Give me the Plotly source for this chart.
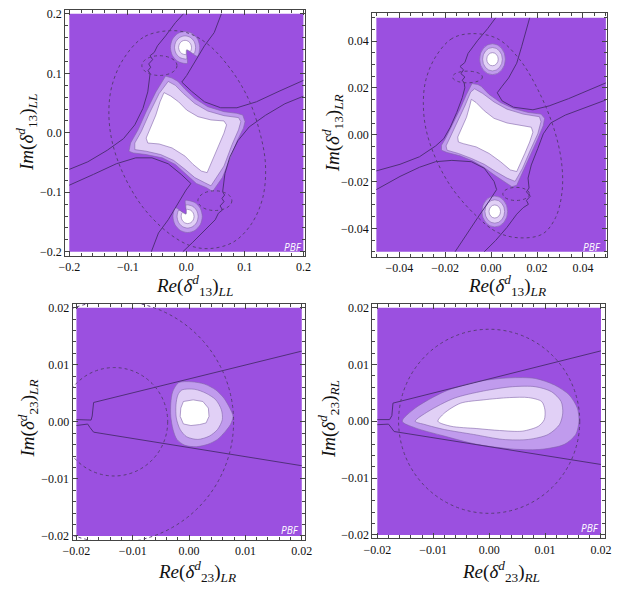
import plotly.graph_objects as go

# ---------------- colours ----------------
PURPLE = "rgb(155,80,224)"
MEDIUM = "rgb(192,155,237)"
LIGHT = "rgb(225,208,246)"
WHITE = "#ffffff"
EDGE = "rgba(130,100,170,0.75)"
DARK = "rgb(80,48,122)"
DASHC = "rgb(88,62,118)"

# ---------------- panel 1 : (delta13)_LL ----------------
P1_OUTER_X = [-0.0355,-0.0244,-0.0144,-0.0022,0.0144,0.0366,0.0643,0.0864,0.0964,0.1003,0.0975,0.0864,0.0753,0.0615,0.0449,0.0338,0.0172,0.0006,-0.0188,-0.0410,-0.0687,-0.0909,-0.0981,-0.0953,-0.0825,-0.0687,-0.0521]
P1_OUTER_Y = [0.0953,0.0920,0.0864,0.0731,0.0576,0.0438,0.0355,0.0327,0.0299,0.0188,0.0078,-0.0144,-0.0421,-0.0753,-0.0986,-0.0920,-0.0853,-0.0698,-0.0532,-0.0421,-0.0366,-0.0338,-0.0310,-0.0172,0.0050,0.0355,0.0687]
P1_MID_X = [-0.0310,-0.0188,-0.0050,0.0144,0.0366,0.0643,0.0892,0.0931,0.0892,0.0781,0.0643,0.0421,0.0310,0.0144,-0.0022,-0.0216,-0.0438,-0.0687,-0.0881,-0.0881,-0.0770,-0.0632,-0.0465]
P1_MID_Y = [0.0864,0.0798,0.0659,0.0493,0.0366,0.0288,0.0255,0.0188,0.0050,-0.0199,-0.0560,-0.0892,-0.0837,-0.0753,-0.0615,-0.0465,-0.0366,-0.0310,-0.0283,-0.0172,0.0022,0.0327,0.0659]
P1_WHITE_X = [-0.0382,-0.0270,-0.0133,0.0006,0.0199,0.0421,0.0643,0.0687,0.0643,0.0532,0.0421,0.0355,0.0255,0.0116,-0.0022,-0.0244,-0.0465,-0.0659,-0.0687,-0.0620,-0.0521,-0.0450]
P1_WHITE_Y = [0.0676,0.0620,0.0521,0.0382,0.0271,0.0216,0.0199,0.0133,-0.0006,-0.0255,-0.0532,-0.0670,-0.0643,-0.0532,-0.0393,-0.0255,-0.0188,-0.0172,-0.0089,0.0078,0.0299,0.0521]

P1_TOP_OUT_X = [0.0188,0.0228,0.0195,0.0103,-0.0022,-0.0147,-0.0239,-0.0272,-0.0239,-0.0147,-0.0022,0.0017,0.0005]
P1_TOP_OUT_Y = [0.1288,0.1435,0.1570,0.1669,0.1705,0.1669,0.1570,0.1435,0.1300,0.1201,0.1165,0.1168,0.1395]
P1_TOP_MID_X = [0.0129,0.0158,0.0134,0.0068,-0.0022,-0.0112,-0.0178,-0.0202,-0.0178,-0.0112,-0.0022,0.0006,0.0005]
P1_TOP_MID_Y = [0.1329,0.1435,0.1533,0.1604,0.1630,0.1604,0.1533,0.1435,0.1338,0.1266,0.1240,0.1242,0.1395]
P1_TOP_WHITE_X = [0.0070,0.0088,0.0073,0.0033,-0.0022,-0.0077,-0.0117,-0.0132,-0.0117,-0.0077,-0.0022,-0.0005,0.0005]
P1_TOP_WHITE_Y = [0.1370,0.1435,0.1495,0.1539,0.1555,0.1539,0.1495,0.1435,0.1375,0.1331,0.1315,0.1316,0.1395]

P1_BOT_OUT_X = [-0.0188,-0.0228,-0.0195,-0.0103,0.0022,0.0147,0.0239,0.0272,0.0239,0.0147,0.0022,-0.0017,-0.0005]
P1_BOT_OUT_Y = [-0.1260,-0.1407,-0.1542,-0.1641,-0.1677,-0.1641,-0.1542,-0.1407,-0.1272,-0.1173,-0.1137,-0.1140,-0.1367]
P1_BOT_MID_X = [-0.0129,-0.0158,-0.0134,-0.0068,0.0022,0.0112,0.0178,0.0202,0.0178,0.0112,0.0022,-0.0006,-0.0005]
P1_BOT_MID_Y = [-0.1301,-0.1407,-0.1505,-0.1576,-0.1602,-0.1576,-0.1505,-0.1407,-0.1310,-0.1238,-0.1212,-0.1214,-0.1367]
P1_BOT_WHITE_X = [-0.0070,-0.0088,-0.0073,-0.0033,0.0022,0.0077,0.0117,0.0132,0.0117,0.0077,0.0022,0.0005,-0.0005]
P1_BOT_WHITE_Y = [-0.1342,-0.1407,-0.1467,-0.1511,-0.1527,-0.1511,-0.1467,-0.1407,-0.1347,-0.1303,-0.1287,-0.1288,-0.1367]

P1_ELL_X = [-0.0355,-0.0742,-0.1075,-0.1269,-0.1324,-0.1269,-0.1075,-0.0742,-0.0299,0.0089,0.0421,0.0809,0.1114,0.1307,0.1352,0.1252,0.1058,0.0753,0.0366,0.0006,-0.0355]
P1_ELL_Y = [0.1712,0.1601,0.1241,0.0798,0.0355,-0.0144,-0.0698,-0.1252,-0.1690,-0.1906,-0.1945,-0.1834,-0.1529,-0.1086,-0.0532,0.0022,0.0576,0.1075,0.1490,0.1684,0.1712]
P1_SMALL_CX = [-0.0460, 0.0488]
P1_SMALL_CY = [0.1130, -0.1141]
P1_SMALL_RX = [0.0300, 0.0290]
P1_SMALL_RY = [0.0166, 0.0166]

P1_L1_X = [-0.2,-0.1684,-0.1352,-0.1075,-0.0881,-0.0742,-0.0659,-0.0632,-0.0620,-0.0654,-0.0609,-0.0643,-0.0576,-0.0620,-0.0548,-0.0493,-0.0355,-0.0188,-0.0050]
P1_L1_Y = [-0.0615,-0.0488,-0.0294,-0.0100,0.0133,0.0410,0.0687,0.0881,0.0992,0.1047,0.1102,0.1158,0.1230,0.1296,0.1352,0.1463,0.1629,0.1850,0.2]
P1_L2_X = [0.0598,0.0476,0.0310,0.0144,0.0006,-0.0078,0.0089,0.0310,0.0587,0.0864,0.1197,0.1584,0.2]
P1_L2_Y = [0.2,0.1684,0.1463,0.1186,0.0964,0.0853,0.0698,0.0521,0.0421,0.0421,0.0521,0.0698,0.0881]
P1_L3_X = [0.2,0.1684,0.1352,0.1075,0.0881,0.0742,0.0659,0.0632,0.0620,0.0654,0.0609,0.0643,0.0576,0.0620,0.0548,0.0493,0.0330,0.0100,-0.0060]
P1_L3_Y = [0.0615,0.0488,0.0294,0.0100,-0.0133,-0.0410,-0.0687,-0.0881,-0.0992,-0.1047,-0.1102,-0.1158,-0.1230,-0.1296,-0.1352,-0.1463,-0.1629,-0.1850,-0.2]
P1_L4_X = [-0.0598,-0.0476,-0.0310,-0.0144,-0.0006,0.0078,-0.0089,-0.0310,-0.0587,-0.0864,-0.1197,-0.1584,-0.2]
P1_L4_Y = [-0.2,-0.1684,-0.1463,-0.1186,-0.0964,-0.0853,-0.0698,-0.0521,-0.0421,-0.0421,-0.0521,-0.0698,-0.0881]

# ---------------- panel 2 : (delta13)_LR ----------------
P2_OUTER_X = [-0.00833,-0.00579,-0.00438,-0.00085,0.00410,0.00975,0.01610,0.02175,0.02331,0.02274,0.02034,0.01709,0.01398,0.01116,0.00904,0.00551,0.00127,-0.00297,-0.00791,-0.01356,-0.01921,-0.02161,-0.02161,-0.01992,-0.01709,-0.01356,-0.01073]
P2_OUTER_Y = [0.02189,0.02147,0.02077,0.01726,0.01375,0.01123,0.00954,0.00884,0.00702,0.00393,-0.00168,-0.00870,-0.01572,-0.02161,-0.02218,-0.01993,-0.01712,-0.01404,-0.01123,-0.00898,-0.00758,-0.00660,-0.00449,-0.00168,0.00393,0.01095,0.01726]
P2_MID_X = [-0.00720,-0.00367,0.00127,0.00692,0.01398,0.02105,0.02175,0.02034,0.01709,0.01370,0.01045,0.00692,0.00198,-0.00297,-0.00862,-0.01427,-0.01921,-0.01963,-0.01780,-0.01497,-0.01144,-0.00890]
P2_MID_Y = [0.01965,0.01768,0.01404,0.01095,0.00884,0.00772,0.00561,0.00042,-0.00660,-0.01432,-0.01993,-0.01853,-0.01572,-0.01263,-0.01011,-0.00800,-0.00660,-0.00477,-0.00098,0.00463,0.01235,0.01825]
P2_WHITE_X = [-0.00862,-0.00650,-0.00297,0.00127,0.00692,0.01398,0.01751,0.01822,0.01681,0.01469,0.01257,0.01116,0.00833,0.00410,-0.00085,-0.00650,-0.01215,-0.01427,-0.01455,-0.01285,-0.01073,-0.00932]
P2_WHITE_Y = [0.01516,0.01375,0.01025,0.00702,0.00505,0.00365,0.00323,0.00112,-0.00309,-0.00800,-0.01291,-0.01572,-0.01502,-0.01151,-0.00800,-0.00519,-0.00379,-0.00309,-0.00098,0.00253,0.00744,0.01235]

P2_RING_CX = [0.0006, 0.0016]
P2_RING_CY = [0.0323, -0.0328]
P2_RING_RX = [0.0056, 0.0043, 0.0025]
P2_RING_RY = [0.0066, 0.0050, 0.0028]

P2_ELL_X = [-0.00862,-0.01709,-0.02415,-0.02839,-0.02952,-0.02839,-0.02415,-0.01709,-0.00720,0.00268,0.01257,0.02246,0.02811,0.03093,0.03065,0.02740,0.02105,0.01257,0.00268,-0.00862]
P2_ELL_Y = [0.04323,0.04112,0.03340,0.02358,0.01375,0.00253,-0.01011,-0.02274,-0.03396,-0.04168,-0.04407,-0.04239,-0.03537,-0.02414,-0.01151,0.00253,0.01796,0.03200,0.04112,0.04323]
P2_SMALL_CX = [-0.0103, 0.0109]
P2_SMALL_CY = [0.0247, -0.0253]
P2_SMALL_RX = [0.0065, 0.0058]
P2_SMALL_RY = [0.0025, 0.0028]

P2_L1_X = [-0.05,-0.03969,-0.03121,-0.02415,-0.02062,-0.01780,-0.01497,-0.01257,-0.01144,-0.01172,-0.01257,-0.01144,-0.01314,-0.01201,-0.01356,-0.01144,-0.01003,-0.00579,-0.00155,0.00198]
P2_L1_Y = [-0.01544,-0.01263,-0.00940,-0.00477,-0.00168,0.00323,0.00954,0.01586,0.02007,0.02218,0.02330,0.02470,0.02611,0.02779,0.02919,0.03088,0.03481,0.04042,0.04533,0.05]
P2_L2_X = [0.01681,0.01540,0.01328,0.01116,0.00763,0.00480,0.00268,0.00480,0.00975,0.01822,0.02528,0.03376,0.04223,0.05]
P2_L2_Y = [0.05,0.04463,0.03761,0.03060,0.02428,0.02077,0.01796,0.01446,0.01179,0.01067,0.01235,0.01544,0.01881,0.02218]
P2_L3_X = [0.05,0.04082,0.03234,0.02599,0.02274,0.02034,0.01751,0.01610,0.01653,0.01540,0.01709,0.01540,0.01624,0.01398,0.01116,0.00692,0.00198,-0.00297]
P2_L3_Y = [0.01488,0.01165,0.00842,0.00505,0.00042,-0.00589,-0.01291,-0.01853,-0.02274,-0.02442,-0.02625,-0.02807,-0.02975,-0.03116,-0.03396,-0.03958,-0.04519,-0.05]
P2_L4_X = [-0.01568,-0.01073,-0.00579,-0.00085,0.00240,0.00127,-0.00297,-0.00862,-0.01709,-0.02415,-0.03121,-0.03969,-0.05]
P2_L4_Y = [-0.05,-0.04239,-0.03537,-0.02835,-0.02344,-0.01993,-0.01432,-0.01151,-0.01095,-0.01151,-0.01389,-0.01782,-0.02344]

# ---------------- panel 3 : (delta23)_LR ----------------
P3_OUTER_X = [-0.00187,0.00043,0.00273,0.00475,0.00619,0.00722,0.00780,0.00734,0.00647,0.00504,0.00331,0.00129,-0.00072,-0.00216,-0.00285,-0.00325,-0.00325,-0.00291]
P3_OUTER_Y = [0.00684,0.00701,0.00661,0.00557,0.00413,0.00240,0.00095,-0.00049,-0.00164,-0.00309,-0.00395,-0.00436,-0.00413,-0.00309,-0.00136,0.00095,0.00326,0.00528]
P3_MID_X = [-0.00129,0.00101,0.00302,0.00475,0.00573,0.00590,0.00504,0.00360,0.00158,-0.00043,-0.00158,-0.00227,-0.00233,-0.00199]
P3_MID_Y = [0.00557,0.00569,0.00499,0.00384,0.00211,0.00038,-0.00136,-0.00251,-0.00309,-0.00263,-0.00136,0.00066,0.00297,0.00470]
P3_WHITE_X = [-0.00101,0.00072,0.00245,0.00342,0.00354,0.00302,0.00187,0.00032,-0.00101,-0.00158,-0.00147]
P3_WHITE_Y = [0.00355,0.00384,0.00355,0.00240,0.00095,-0.00020,-0.00049,-0.00066,-0.00038,0.00095,0.00240]
P3_UP_X = [-0.02,-0.0174,-0.0172,-0.01695,0.02]
P3_UP_Y = [0.00038,0.00030,0.00100,0.00338,0.01238]
P3_LO_X = [-0.02,-0.0180,-0.0176,-0.01695,0.02]
P3_LO_Y = [-0.00066,-0.00040,-0.00100,-0.00182,-0.00770]
P3_CIRC_CX = [-0.0133, -0.0133]
P3_CIRC_CY = [0.0, 0.0]
P3_CIRC_R = [0.0095, 0.0212]

# ---------------- panel 4 : (delta23)_RL ----------------
P4_OUTER_X = [-0.01554,-0.01322,-0.00800,-0.00220,0.00359,0.00823,0.01171,0.01432,0.01577,0.01606,0.01548,0.01345,0.00939,0.00475,-0.00220,-0.00800,-0.01322]
P4_OUTER_Y = [0.0,0.00232,0.00522,0.00696,0.00765,0.00754,0.00638,0.00464,0.00232,0.0,-0.00232,-0.00406,-0.00493,-0.00493,-0.00406,-0.00261,-0.00116]
P4_MID_X = [-0.01322,-0.01090,-0.00626,-0.00104,0.00417,0.00823,0.01113,0.01287,0.01316,0.01258,0.01055,0.00707,0.00243,-0.00278,-0.00800,-0.01148]
P4_MID_Y = [0.0,0.00174,0.00406,0.00533,0.00609,0.00609,0.00522,0.00348,0.00145,-0.00058,-0.00232,-0.00319,-0.00319,-0.00232,-0.00145,-0.00058]
P4_WHITE_X = [-0.00916,-0.00800,-0.00510,-0.00104,0.00359,0.00707,0.00939,0.00997,0.00986,0.00881,0.00591,0.00186,-0.00220,-0.00684]
P4_WHITE_Y = [0.0,0.00145,0.00319,0.00377,0.00417,0.00417,0.00348,0.00203,0.00029,-0.00087,-0.00174,-0.00162,-0.00128,-0.00087]
P4_UP_X = [-0.02,-0.0178,-0.0174,-0.0172,0.02]
P4_UP_Y = [0.0003,0.0003,0.0010,0.0032,0.0124]
P4_LO_X = [-0.02,-0.0180,-0.0176,-0.0170,0.02]
P4_LO_Y = [-0.0006,-0.0005,-0.0010,-0.0018,-0.0076]
P4_CIRC_CX = [0.0]
P4_CIRC_CY = [0.0]
P4_CIRC_R = [0.0162]

# ---------------- ticks & labels ----------------
P1_TICKS = [-0.2, -0.1, 0.0, 0.1, 0.2]
P1_TICKTEXT = ["\u22120.2", "\u22120.1", "0.0", "0.1", "0.2"]
P2_TICKS = [-0.04, -0.02, 0.0, 0.02, 0.04]
P2_TICKTEXT = ["\u22120.04", "\u22120.02", "0.00", "0.02", "0.04"]
P3_TICKS = [-0.02, -0.01, 0.0, 0.01, 0.02]
P3_TICKTEXT = ["\u22120.02", "\u22120.01", "0.00", "0.01", "0.02"]

XTITLES = ["<i>Re</i>(<i>\u03b4</i><sup><i>d</i></sup><sub>13</sub>)<sub><i>LL</i></sub>",
           "<i>Re</i>(<i>\u03b4</i><sup><i>d</i></sup><sub>13</sub>)<sub><i>LR</i></sub>",
           "<i>Re</i>(<i>\u03b4</i><sup><i>d</i></sup><sub>23</sub>)<sub><i>LR</i></sub>",
           "<i>Re</i>(<i>\u03b4</i><sup><i>d</i></sup><sub>23</sub>)<sub><i>RL</i></sub>"]
YTITLES = ["<i>Im</i>(<i>\u03b4</i><sup><i>d</i></sup><sub>13</sub>)<sub><i>LL</i></sub>",
           "<i>Im</i>(<i>\u03b4</i><sup><i>d</i></sup><sub>13</sub>)<sub><i>LR</i></sub>",
           "<i>Im</i>(<i>\u03b4</i><sup><i>d</i></sup><sub>23</sub>)<sub><i>LR</i></sub>",
           "<i>Im</i>(<i>\u03b4</i><sup><i>d</i></sup><sub>23</sub>)<sub><i>RL</i></sub>"]

W, H = 619, 590
fig = go.Figure()
shapes = []
annotations = []

AX = [("x", "y"), ("x2", "y2"), ("x3", "y3"), ("x4", "y4")]


def closed(xs, ys):
    return list(xs) + [xs[0]], list(ys) + [ys[0]]


def region(k, xs, ys, color, smooth=False):
    ax, ay = AX[k]
    cx, cy = closed(xs, ys)
    fig.add_trace(go.Scatter(
        x=cx, y=cy, mode="lines", fill="toself", fillcolor=color,
        line=dict(color=EDGE, width=0.8, shape="spline" if smooth else "linear",
                  smoothing=0.8),
        xaxis=ax, yaxis=ay, hoverinfo="skip", showlegend=False))


def dark_line(k, xs, ys):
    ax, ay = AX[k]
    fig.add_trace(go.Scatter(x=xs, y=ys, mode="lines",
                             line=dict(color=DARK, width=1.0),
                             xaxis=ax, yaxis=ay, hoverinfo="skip", showlegend=False))


def dashed_loop(k, xs, ys):
    ax, ay = AX[k]
    fig.add_trace(go.Scatter(x=xs, y=ys, mode="lines",
                             line=dict(color=DASHC, width=1, dash="3px,3px",
                                       shape="spline", smoothing=1.0),
                             xaxis=ax, yaxis=ay, hoverinfo="skip", showlegend=False))


def ellipse_shape(k, cx, cy, rx, ry, fill=None, layer="above"):
    ax, ay = AX[k]
    d = dict(type="circle", xref=ax, yref=ay, x0=cx - rx, x1=cx + rx,
             y0=cy - ry, y1=cy + ry, layer=layer)
    if fill:
        d["fillcolor"] = fill
        d["line"] = dict(color=EDGE, width=0.8)
    else:
        d["line"] = dict(color=DASHC, width=1, dash="3px,3px")
    shapes.append(d)


# purple backgrounds (the data region)
LIMITS = [0.2, 0.05, 0.02, 0.02]
for k, lim in enumerate(LIMITS):
    ax, ay = AX[k]
    shapes.append(dict(type="rect", xref=ax, yref=ay, x0=-lim, x1=lim, y0=-lim, y1=lim,
                       fillcolor=PURPLE, line=dict(width=0), layer="below"))

# ---- panel 1
region(0, P1_OUTER_X, P1_OUTER_Y, MEDIUM)
region(0, P1_MID_X, P1_MID_Y, LIGHT)
region(0, P1_WHITE_X, P1_WHITE_Y, WHITE)
for xs, ys, c in [(P1_TOP_OUT_X, P1_TOP_OUT_Y, MEDIUM), (P1_TOP_MID_X, P1_TOP_MID_Y, LIGHT),
                  (P1_TOP_WHITE_X, P1_TOP_WHITE_Y, WHITE),
                  (P1_BOT_OUT_X, P1_BOT_OUT_Y, MEDIUM), (P1_BOT_MID_X, P1_BOT_MID_Y, LIGHT),
                  (P1_BOT_WHITE_X, P1_BOT_WHITE_Y, WHITE)]:
    region(0, xs, ys, c, smooth=True)
for xs, ys in [(P1_L1_X, P1_L1_Y), (P1_L2_X, P1_L2_Y), (P1_L3_X, P1_L3_Y), (P1_L4_X, P1_L4_Y)]:
    dark_line(0, xs, ys)
dashed_loop(0, P1_ELL_X, P1_ELL_Y)
for i in range(2):
    ellipse_shape(0, P1_SMALL_CX[i], P1_SMALL_CY[i], P1_SMALL_RX[i], P1_SMALL_RY[i])

# ---- panel 2
region(1, P2_OUTER_X, P2_OUTER_Y, MEDIUM)
region(1, P2_MID_X, P2_MID_Y, LIGHT)
region(1, P2_WHITE_X, P2_WHITE_Y, WHITE)
for i in range(2):
    for lvl, col in enumerate([MEDIUM, LIGHT, WHITE]):
        ellipse_shape(1, P2_RING_CX[i], P2_RING_CY[i], P2_RING_RX[lvl], P2_RING_RY[lvl],
                      fill=col, layer="below")
for xs, ys in [(P2_L1_X, P2_L1_Y), (P2_L2_X, P2_L2_Y), (P2_L3_X, P2_L3_Y), (P2_L4_X, P2_L4_Y)]:
    dark_line(1, xs, ys)
dashed_loop(1, P2_ELL_X, P2_ELL_Y)
for i in range(2):
    ellipse_shape(1, P2_SMALL_CX[i], P2_SMALL_CY[i], P2_SMALL_RX[i], P2_SMALL_RY[i])

# ---- panel 3
region(2, P3_OUTER_X, P3_OUTER_Y, MEDIUM, smooth=True)
region(2, P3_MID_X, P3_MID_Y, LIGHT, smooth=True)
region(2, P3_WHITE_X, P3_WHITE_Y, WHITE)
dark_line(2, P3_UP_X, P3_UP_Y)
dark_line(2, P3_LO_X, P3_LO_Y)
for i in range(2):
    ellipse_shape(2, P3_CIRC_CX[i], P3_CIRC_CY[i], P3_CIRC_R[i], P3_CIRC_R[i])

# ---- panel 4
region(3, P4_OUTER_X, P4_OUTER_Y, MEDIUM, smooth=True)
region(3, P4_MID_X, P4_MID_Y, LIGHT, smooth=True)
region(3, P4_WHITE_X, P4_WHITE_Y, WHITE, smooth=True)
dark_line(3, P4_UP_X, P4_UP_Y)
dark_line(3, P4_LO_X, P4_LO_Y)
ellipse_shape(3, P4_CIRC_CX[0], P4_CIRC_CY[0], P4_CIRC_R[0], P4_CIRC_R[0])

# ---------------- axes ----------------
# frame boxes in pixels (left, right, top, bottom) and axis ranges
FRAMES = [(56.7, 303.3, 7.3, 256.0), (372.3, 614.3, 10.0, 256.7),
          (64.3, 303.3, 304.3, 543.3), (372.7, 611.7, 304.3, 541.7)]
XRANGES = [(-0.2071, 0.2027), (-0.05186, 0.05068), (-0.02069, 0.02057), (-0.02087, 0.0207)]
YRANGES = [(-0.2071, 0.2061), (-0.05211, 0.05211), (-0.02069, 0.02069), (-0.02059, 0.0207)]
TICKS = [(P1_TICKS, P1_TICKTEXT, 0.02), (P2_TICKS, P2_TICKTEXT, 0.005),
         (P3_TICKS, P3_TICKTEXT, 0.002), (P3_TICKS, P3_TICKTEXT, 0.002)]

FONT_T = "Liberation Serif"
layout_axes = {}
for k in range(4):
    l, r, t, b = FRAMES[k]
    tv, tt, mdt = TICKS[k]
    common = dict(showline=True, linecolor="#444", linewidth=1, mirror="ticks",
                  ticks="inside", ticklen=5, tickwidth=1, tickcolor="#444",
                  tickmode="array", tickvals=tv, ticktext=tt,
                  tickfont=dict(family=FONT_T, size=12, color="#111"),
                  showgrid=False, zeroline=False, fixedrange=True,
                  minor=dict(ticks="inside", ticklen=3, tickcolor="#444", tickwidth=1,
                             tickmode="linear", tick0=0, dtick=mdt, showgrid=False))
    xname = "xaxis" if k == 0 else f"xaxis{k+1}"
    yname = "yaxis" if k == 0 else f"yaxis{k+1}"
    layout_axes[xname] = dict(common, domain=[l / W, r / W], range=list(XRANGES[k]),
                              anchor=AX[k][1])
    layout_axes[yname] = dict(common, domain=[1 - b / H, 1 - t / H], range=list(YRANGES[k]),
                              anchor=AX[k][0])

# titles
XT_POS = [(190, 286), (511, 286), (192, 575), (505, 575)]
YT_POS = [(17, 131), (332, 132), (18, 421), (327, 421)]
for k in range(4):
    annotations.append(dict(text=XTITLES[k], x=XT_POS[k][0] / W, y=1 - XT_POS[k][1] / H,
                            xref="paper", yref="paper", showarrow=False,
                            xanchor="center", yanchor="middle",
                            font=dict(family=FONT_T, size=19, color="#111")))
    annotations.append(dict(text=YTITLES[k], x=YT_POS[k][0] / W, y=1 - YT_POS[k][1] / H,
                            xref="paper", yref="paper", showarrow=False, textangle=-90,
                            xanchor="center", yanchor="middle",
                            font=dict(family=FONT_T, size=19, color="#111")))

# PBF marks
PBF_X = [0.183, 0.0439, 0.0180, 0.0181]
PBF_Y = [-0.192, -0.048, -0.0190, -0.0188]
for k in range(4):
    ax, ay = AX[k]
    annotations.append(dict(text="<i>PBF</i>", x=PBF_X[k], y=PBF_Y[k], xref=ax, yref=ay,
                            showarrow=False, xanchor="center", yanchor="middle",
                            font=dict(family="Open Sans", size=10, color="white")))

fig.update_layout(width=W, height=H, margin=dict(l=0, r=0, t=0, b=0),
                  paper_bgcolor="white", plot_bgcolor="white",
                  showlegend=False, shapes=shapes, annotations=annotations,
                  hovermode=False, **layout_axes)

fig.write_html("out.html", config={"displayModeBar": False, "staticPlot": True},
               post_script="document.body.style.margin='0px';document.body.style.padding='0px';")
